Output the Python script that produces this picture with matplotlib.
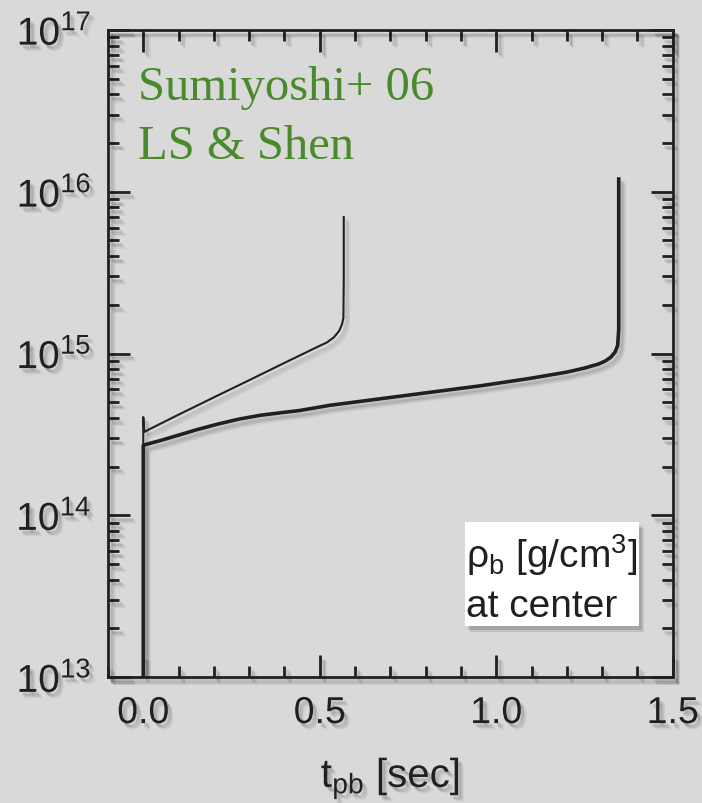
import matplotlib
matplotlib.use("Agg")
import matplotlib.pyplot as plt
import matplotlib.patheffects as pe
from matplotlib.patches import Rectangle
from matplotlib.ticker import MultipleLocator, LogLocator, NullFormatter
import numpy as np

# ---- data ----
ls_t = [0.0, 0.0, 0.003, 0.1, 0.2, 0.3, 0.4, 0.5, 0.52, 0.54, 0.555, 0.563, 0.567, 0.568, 0.568]
ls_logrho = [12.0, 14.607, 14.516, 14.622, 14.729, 14.835, 14.942, 15.048, 15.068, 15.10,
             15.14, 15.18, 15.22, 15.45, 15.85]

shen_t = [0.0, 0.0, 0.003, 0.05, 0.095, 0.15, 0.208, 0.27, 0.331, 0.39, 0.444, 0.529, 0.671,
          0.812, 0.954, 1.095, 1.2, 1.25, 1.29, 1.31, 1.325, 1.337, 1.344, 1.347, 1.347]
shen_logrho = [12.0, 14.43, 14.435, 14.463, 14.492, 14.528, 14.562, 14.594, 14.618, 14.634,
               14.648, 14.68, 14.72, 14.76, 14.80, 14.846, 14.885, 14.91, 14.935, 14.955,
               14.978, 15.01, 15.05, 15.15, 16.09]

xticks = [0.0, 0.5, 1.0, 1.5]
xticklabels = ["0.0", "0.5", "1.0", "1.5"]

BG = "#d9d9d9"
INK = "#231f20"
GREEN = "#4a8a2c"

plt.rcParams['font.family'] = ['Liberation Sans', 'DejaVu Sans']
plt.rcParams['mathtext.fontset'] = 'custom'
plt.rcParams['mathtext.rm'] = 'Liberation Sans'
plt.rcParams['mathtext.it'] = 'Liberation Sans:italic'
plt.rcParams['mathtext.bf'] = 'Liberation Sans:bold'

def line_shadow():
    return [pe.SimpleLineShadow(offset=(2.0, -2.5), shadow_color='k', alpha=0.10, rho=0.3),
            pe.SimpleLineShadow(offset=(3.0, -3.5), shadow_color='k', alpha=0.08, rho=0.3),
            pe.SimpleLineShadow(offset=(4.0, -4.5), shadow_color='k', alpha=0.06, rho=0.3),
            pe.Normal()]

def text_shadow():
    return [pe.SimplePatchShadow(offset=(2.0, -2.5), shadow_rgbFace='k', alpha=0.10),
            pe.SimplePatchShadow(offset=(3.0, -3.5), shadow_rgbFace='k', alpha=0.08),
            pe.SimplePatchShadow(offset=(4.0, -4.5), shadow_rgbFace='k', alpha=0.06),
            pe.Normal()]

fig = plt.figure(figsize=(7.02, 8.04), dpi=100, facecolor=BG)
ax = fig.add_axes([0.1538, 0.1567, 0.8045, 0.8047])
ax.set_facecolor(BG)

ax.plot(ls_t, np.power(10.0, ls_logrho), color=INK, lw=1.5, path_effects=line_shadow(),
        solid_capstyle='butt', solid_joinstyle='round', zorder=3)
ax.plot(shen_t, np.power(10.0, shen_logrho), color=INK, lw=2.6, path_effects=line_shadow(),
        solid_capstyle='butt', solid_joinstyle='round', zorder=3)

ax.set_yscale('log')
ax.set_xlim(-0.1, 1.5)
ax.set_ylim(1e13, 1e17)

ax.set_xticks(xticks)
ax.set_xticklabels(xticklabels)
ax.xaxis.set_minor_locator(MultipleLocator(0.1))
ax.yaxis.set_major_locator(LogLocator(base=10, numticks=10))
ax.yaxis.set_minor_locator(LogLocator(base=10, subs=np.arange(2, 10), numticks=20))
ax.yaxis.set_minor_formatter(NullFormatter())

ax.tick_params(which='both', direction='in', top=True, right=True, color=INK,
               labelcolor=INK)
ax.tick_params(which='major', length=15.8, width=2.0)
ax.tick_params(which='minor', length=8.0, width=2.0)
ax.tick_params(axis='x', which='major', labelsize=27, pad=13)
ax.tick_params(axis='y', which='major', labelsize=28, pad=12)

for sp in ax.spines.values():
    sp.set_linewidth(2.0)
    sp.set_color(INK)
    sp.set_path_effects(line_shadow())

for tl in ax.get_xticklabels() + ax.get_yticklabels():
    tl.set_path_effects(text_shadow())

for axis in (ax.xaxis, ax.yaxis):
    for t in axis.get_major_ticks() + axis.get_minor_ticks():
        t.tick1line.set_path_effects(line_shadow())
        t.tick2line.set_path_effects(line_shadow())

ax.set_xlabel(r"$\mathregular{t_{pb}}$ [sec]", fontsize=29, color=INK, labelpad=17,
              path_effects=text_shadow())

# green annotation
ax.text(0.053, 0.893, "Sumiyoshi+ 06", transform=ax.transAxes, fontsize=35,
        family='Liberation Serif', color=GREEN, va='baseline', ha='left')
ax.text(0.053, 0.802, "LS & Shen", transform=ax.transAxes, fontsize=35,
        family='Liberation Serif', color=GREEN, va='baseline', ha='left')

# label box
rect = Rectangle((0.632, 0.0788), 0.308, 0.1608, transform=ax.transAxes,
                 facecolor='white', edgecolor='none', zorder=4)
rect.set_path_effects([pe.SimplePatchShadow(offset=(2.5, -3), shadow_rgbFace='k', alpha=0.15),
                       pe.SimplePatchShadow(offset=(4, -4.5), shadow_rgbFace='k', alpha=0.10),
                       pe.Normal()])
ax.add_patch(rect)
ax.text(0.634, 0.170, r"$\mathregular{\rho_b}$ [g/cm$\mathregular{^3}$]", transform=ax.transAxes,
        fontsize=28, color=INK, va='baseline', ha='left', zorder=5)
ax.text(0.634, 0.094, "at center", transform=ax.transAxes,
        fontsize=28, color=INK, va='baseline', ha='left', zorder=5)

fig.savefig("out.png", dpi=100, facecolor=BG)
